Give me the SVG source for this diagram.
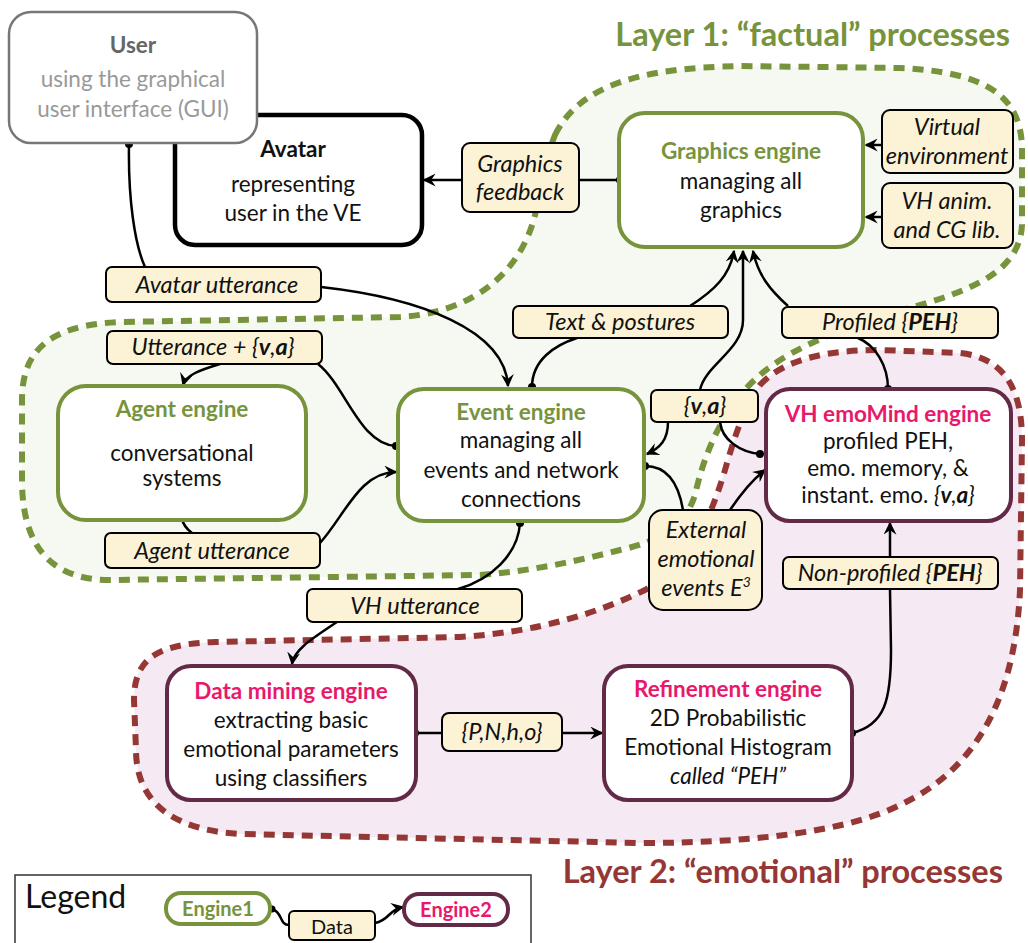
<svg xmlns="http://www.w3.org/2000/svg" width="1028" height="943" viewBox="0 0 1028 943">
<defs>
<marker id="arr" viewBox="0 0 10 10" refX="9" refY="5" markerUnits="userSpaceOnUse" markerWidth="13" markerHeight="13" orient="auto">
<path d="M0,0 L10,5 L0,10 L3.5,5 Z" fill="#000"/>
</marker>
<style>
text{font-family:Lato,"Open Sans","Liberation Sans",sans-serif;text-anchor:middle;fill:#111}
.body{font-size:22.5px}
.tg{font-size:22.5px;font-weight:bold;fill:#77933c}
.tp{font-size:22.5px;font-weight:bold;fill:#e8196b}
.lab{font-size:23.5px;font-style:italic}
.b{font-weight:bold}
.eg{fill:#fff;stroke:#77933c;stroke-width:4}
.ep{fill:#fff;stroke:#632a48;stroke-width:4}
.lb{fill:#fcf3d6;stroke:#000;stroke-width:2}
.c{fill:none;stroke:#000;stroke-width:2.5}
.dot{fill:#000}
.title{font-size:32.5px;font-weight:bold}
</style>
</defs>
<rect width="1028" height="943" fill="#fff"/>
<g id="layer1">
<path d="M555,135 C580,85 640,68 740,66 L900,68 C985,72 1022,95 1022,150 L1022,225 C1020,265 985,285 930,302 C870,320 800,340 760,375 C725,405 705,450 695,495 C685,525 665,540 620,550 C580,560 540,570 480,575 L110,580 C50,580 22,545 22,480 L22,400 C22,350 50,325 120,322 L400,317 C470,313 520,275 535,215 C542,185 545,160 555,135 Z" fill="#f6f9f2" stroke="#77933c" stroke-width="6" stroke-dasharray="11 8"/>
<text class="title" x="1010" y="46" style="text-anchor:end;fill:#77933c">Layer 1: “factual” processes</text>
</g>
<g id="layer2">
<path d="M760,385 C785,358 830,350 880,350 L960,353 C1005,358 1022,390 1022,440 L1020,590 C1015,700 975,770 900,805 C850,830 760,843 640,843 L240,834 C170,830 136,800 136,750 L134,700 C134,660 155,644 215,642 L460,637 C540,632 600,612 645,590 C690,565 710,520 725,470 C735,435 745,405 760,385 Z" fill="#f5eaf3" stroke="#953735" stroke-width="6" stroke-dasharray="11 8"/>
<text class="title" x="1003" y="883" style="text-anchor:end;fill:#953735">Layer 2: “emotional” processes</text>
</g>
<g id="connectors">
<path class="c" d="M620,180 L579,180"/>
<path class="c" d="M462,180 L424,180" marker-end="url(#arr)"/>
<path class="c" d="M882,145 L866,145" marker-end="url(#arr)"/>
<path class="c" d="M882,217 L866,217" marker-end="url(#arr)"/>
<path class="c" d="M129,144 C128,200 135,245 145,267"/>
<path class="c" d="M321,287 C420,298 505,330 508,386" marker-end="url(#arr)"/>
<path class="c" d="M220,364 C200,370 186,375 183,385" marker-end="url(#arr)"/>
<path class="c" d="M318,364 C345,385 360,445 396,446"/>
<path class="c" d="M182,518 C183,526 188,530 192,533"/>
<path class="c" d="M320,543 C345,515 360,472 396,472" marker-end="url(#arr)"/>
<path class="c" d="M520,523 C518,555 490,580 458,589"/>
<path class="c" d="M337,622 C310,640 294,650 292,664" marker-end="url(#arr)"/>
<path class="c" d="M532,387 C532,360 555,345 577,338"/>
<path class="c" d="M690,306 C715,290 730,275 734,251" marker-end="url(#arr)"/>
<path class="c" d="M700,390 C705,365 743,350 743,320 L743,251" marker-end="url(#arr)"/>
<path class="c" d="M788,306 C770,290 758,275 753,251" marker-end="url(#arr)"/>
<path class="c" d="M888,389 C888,365 875,345 858,338"/>
<path class="c" d="M668,422 C668,440 660,448 647,454" marker-end="url(#arr)"/>
<path class="c" d="M720,422 C722,440 740,452 760,454"/>
<path class="c" d="M645,466 C665,466 678,480 683,510"/>
<path class="c" d="M730,510 C740,495 752,480 765,470" marker-end="url(#arr)"/>
<path class="c" d="M890,557 L890,523" marker-end="url(#arr)"/>
<path class="c" d="M852,733 C885,725 891,700 891,650 L890,590"/>
<path class="c" d="M415,733 L442,733"/>
<path class="c" d="M562,733 L602,733" marker-end="url(#arr)"/>
<circle class="dot" cx="620" cy="180" r="4"/>
<circle class="dot" cx="129" cy="144" r="4"/>
<circle class="dot" cx="396" cy="446" r="4"/>
<circle class="dot" cx="182" cy="518" r="4"/>
<circle class="dot" cx="520" cy="523" r="4"/>
<circle class="dot" cx="532" cy="387" r="4"/>
<circle class="dot" cx="888" cy="389" r="4"/>
<circle class="dot" cx="760" cy="454" r="4"/>
<circle class="dot" cx="645" cy="466" r="4"/>
<circle class="dot" cx="852" cy="733" r="4"/>
<circle class="dot" cx="415" cy="733" r="4"/>
</g>
<g id="avatar">
<rect x="175" y="115" width="247" height="130" rx="20" fill="#fff" stroke="#000" stroke-width="4.5"/>
<text x="293" y="157" style="font-size:22.5px;font-weight:bold">Avatar</text>
<text class="body" x="293" y="192">representing</text>
<text class="body" x="293" y="221">user in the VE</text>
</g>
<g id="user">
<rect x="9" y="12" width="248" height="131" rx="22" fill="#fff" stroke="#777" stroke-width="2.5"/>
<text x="133" y="53" style="font-size:22.5px;font-weight:bold;fill:#666">User</text>
<text class="body" x="133" y="87" style="fill:#999">using the graphical</text>
<text class="body" x="133" y="117" style="fill:#999">user interface (GUI)</text>
</g>
<g id="graphics-feedback">
<rect class="lb" x="462" y="143" width="117" height="69" rx="8"/>
<text class="lab" x="520" y="172">Graphics</text>
<text class="lab" x="520" y="200">feedback</text>
</g>
<g id="graphics-engine">
<rect class="eg" x="619" y="113" width="244" height="134" rx="26"/>
<text class="tg" x="741" y="159">Graphics engine</text>
<text class="body" x="741" y="189">managing all</text>
<text class="body" x="741" y="218">graphics</text>
</g>
<g id="virtual-environment">
<rect class="lb" x="882" y="110" width="131" height="63" rx="8"/>
<text class="lab" x="947" y="135">Virtual</text>
<text class="lab" x="947" y="164">environment</text>
</g>
<g id="vh-anim">
<rect class="lb" x="882" y="183" width="131" height="65" rx="8"/>
<text class="lab" x="947" y="209">VH anim.</text>
<text class="lab" x="947" y="238">and CG lib.</text>
</g>
<g id="avatar-utterance">
<rect class="lb" x="106" y="267" width="215" height="35" rx="6"/>
<text class="lab" x="217" y="293">Avatar utterance</text>
</g>
<g id="utterance-va">
<rect class="lb" x="107" y="331" width="215" height="33" rx="6"/>
<text class="lab" x="213" y="355">Utterance + {<tspan class="b">v</tspan>,<tspan class="b">a</tspan>}</text>
</g>
<g id="text-postures">
<rect class="lb" x="513" y="306" width="215" height="32" rx="6"/>
<text class="lab" x="620" y="330">Text &amp; postures</text>
</g>
<g id="profiled-peh">
<rect class="lb" x="782" y="307" width="216" height="31" rx="6"/>
<text class="lab" x="890" y="330">Profiled {<tspan class="b">PEH</tspan>}</text>
</g>
<g id="agent-engine">
<rect class="eg" x="58" y="386" width="248" height="134" rx="28"/>
<text class="tg" x="182" y="417">Agent engine</text>
<text class="body" x="182" y="461">conversational</text>
<text class="body" x="182" y="486">systems</text>
</g>
<g id="event-engine">
<rect class="eg" x="398" y="389" width="246" height="132" rx="26"/>
<text class="tg" x="521" y="420">Event engine</text>
<text class="body" x="521" y="448">managing all</text>
<text class="body" x="521" y="478">events and network</text>
<text class="body" x="521" y="507">connections</text>
</g>
<g id="va">
<rect class="lb" x="651" y="390" width="107" height="32" rx="6"/>
<text class="lab" x="705" y="414">{<tspan class="b">v</tspan>,<tspan class="b">a</tspan>}</text>
</g>
<g id="emomind-engine">
<rect class="ep" x="766" y="389" width="245" height="132" rx="24"/>
<text class="tp" x="888" y="422">VH emoMind engine</text>
<text class="body" x="888" y="449">profiled PEH,</text>
<text class="body" x="888" y="476">emo. memory, &amp;</text>
<text class="body" x="888" y="503">instant. emo. <tspan font-style="italic">{<tspan class="b">v</tspan>,<tspan class="b">a</tspan>}</tspan></text>
</g>
<g id="agent-utterance">
<rect class="lb" x="105" y="533" width="215" height="35" rx="6"/>
<text class="lab" x="212" y="559">Agent utterance</text>
</g>
<g id="external-events">
<rect class="lb" x="649" y="510" width="113" height="100" rx="14"/>
<text class="lab" x="706" y="538">External</text>
<text class="lab" x="706" y="567">emotional</text>
<text class="lab" x="706" y="596">events E<tspan dy="-9" font-size="14">3</tspan></text>
</g>
<g id="non-profiled-peh">
<rect class="lb" x="783" y="557" width="215" height="32" rx="6"/>
<text class="lab" x="890" y="581">Non-profiled {<tspan class="b">PEH</tspan>}</text>
</g>
<g id="vh-utterance">
<rect class="lb" x="307" y="589" width="215" height="33" rx="6"/>
<text class="lab" x="415" y="614">VH utterance</text>
</g>
<g id="data-mining-engine">
<rect class="ep" x="167" y="666" width="249" height="134" rx="24"/>
<text class="tp" x="291" y="699">Data mining engine</text>
<text class="body" x="291" y="728">extracting basic</text>
<text class="body" x="291" y="757">emotional parameters</text>
<text class="body" x="291" y="786">using classifiers</text>
</g>
<g id="pnho">
<rect class="lb" x="442" y="713" width="120" height="38" rx="7"/>
<text class="lab" x="502" y="740">{P,N,h,o}</text>
</g>
<g id="refinement-engine">
<rect class="ep" x="604" y="666" width="248" height="134" rx="24"/>
<text class="tp" x="728" y="697">Refinement engine</text>
<text class="body" x="728" y="726">2D Probabilistic</text>
<text class="body" x="728" y="755">Emotional Histogram</text>
<text class="body" x="728" y="784" font-style="italic">called “PEH”</text>
</g>
<g id="legend">
<rect x="15" y="875" width="516" height="80" fill="#fff" stroke="#333" stroke-width="1.5"/>
<text x="25" y="908" style="font-size:32px;text-anchor:start">Legend</text>
<path class="c" d="M272,909 C283,912 279,925 289,925"/>
<path class="c" d="M375,923 C390,920 388,910 403,907" marker-end="url(#arr)"/>
<circle class="dot" cx="272" cy="909" r="3.5"/>
<g id="legend-engine1">
<rect x="166" y="893" width="104" height="31" rx="15" fill="#fff" stroke="#77933c" stroke-width="4"/>
<text x="218" y="916" style="font-size:20px;font-weight:bold;fill:#77933c">Engine1</text>
</g>
<g id="legend-data">
<rect class="lb" x="289" y="911" width="86" height="29" rx="5"/>
<text x="332" y="934" style="font-size:20px">Data</text>
</g>
<g id="legend-engine2">
<rect x="404" y="894" width="104" height="31" rx="15" fill="#fff" stroke="#632a48" stroke-width="4"/>
<text x="456" y="917" style="font-size:20px;font-weight:bold;fill:#e8196b">Engine2</text>
</g>
</g>
</svg>
